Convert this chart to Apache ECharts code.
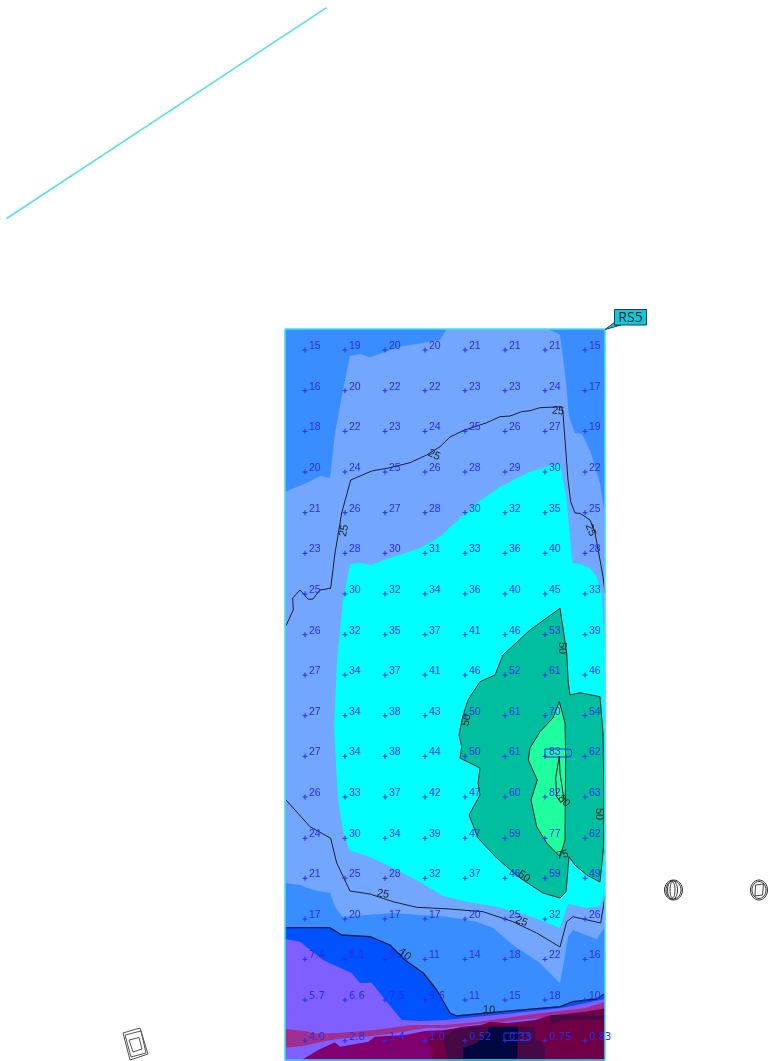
<!DOCTYPE html>
<html><head><meta charset="utf-8">
<style>html,body{margin:0;padding:0;background:#fff}#c{width:768px;height:1061px}</style>
<script src="https://cdn.jsdelivr.net/npm/echarts@6/dist/echarts.min.js"></script>
</head><body><div id="c"></div>
<script>
// Calculation grid of the plan
const gridX=[305,345,385,425,465,505,545,585];
const gridY=[350,390.7,431.3,472,512.7,553.3,594,634.7,675,715.7,756.3,797,838.3,878.3,919,959.3,1000,1040.7];
const values=[
[15,19,20,20,21,21,21,15],
[16,20,22,22,23,23,24,17],
[18,22,23,24,25,26,27,19],
[20,24,25,26,28,29,30,22],
[21,26,27,28,30,32,35,25],
[23,28,30,31,33,36,40,28],
[25,30,32,34,36,40,45,33],
[26,32,35,37,41,46,53,39],
[27,34,37,41,46,52,61,46],
[27,34,38,43,50,61,70,54],
[27,34,38,44,50,61,83,62],
[26,33,37,42,47,60,82,63],
[24,30,34,39,47,59,77,62],
[21,25,28,32,37,46,59,49],
[17,20,17,17,20,25,32,26],
[7.4,8.1,9.2,11,14,18,22,16],
[5.7,6.6,7.5,9.6,11,15,18,10],
[4.0,2.8,1.4,1.0,0.52,0.33,0.75,0.83]];
// Filled bands
const plate=[[285,329],[605,329],[605,1061],[285,1061]];
const band20=[[446.7,329],[440,340],[400,346.7],[370,357.3],[360,354],[350,356],[343,390],[335,433],[330,478],[320,476],[306.7,483],[285,491.7],[285,883],[300,885],[313,890],[330,893],[335,907],[342.7,917],[366.7,915],[393,913],[420,915],[446.7,916.7],[476.7,921.7],[493,928],[513,945],[540,963],[560,983],[563,967],[568,937],[573,930],[596.7,939],[605,927],[605,516.7],[600,483],[590,450],[581.7,434],[575,433],[569,416.7],[565,373],[560,335],[549,329]];
const band30=[[560,463],[546.7,466.7],[530,471.7],[500,486.7],[476.7,503],[460,518],[440,536.7],[420,548],[390,558],[370,565],[360,562.7],[350,564],[343,600],[337,660],[334,726.7],[336.7,776.7],[338,800],[343,830],[349,850],[370,857],[393,868],[420,882],[443,896],[466.7,901.7],[496.7,906.7],[526.7,915],[560,928],[568,904],[586.7,908],[600,906],[605,890],[605,656.7],[601.7,593],[596.7,576.7],[590,568],[580,564],[573,563],[572,560],[566.7,500]];
const band50=[[560,608.3],[530,630],[503,655],[495,675],[480,681.7],[468,700],[462.7,716.7],[459,735],[461.7,746.7],[460,758],[480,768],[478,783],[480,795],[469,815],[478,838],[496.7,858],[520,878],[543,893],[560,898],[566,891.7],[569,856.7],[575,865],[586.7,875],[600,882],[603.3,850],[604,800],[603,733],[600,696.7],[580,692.7],[570,695],[568.3,683],[566.7,653]];
const band75=[[559.3,701.7],[553,718],[540,731.7],[530,748],[528.3,760],[537.3,780],[531,800],[536.7,826.7],[546.7,843],[560,856.7],[565,840],[565.7,756.7],[565,723]];
const band10=[[285,927.7],[330,927.7],[341.7,935],[370,936.7],[390,945],[405,960],[423.3,973],[436.7,990],[450,1013],[456.7,1016],[486.7,1013],[513,1010.7],[560,1006.7],[573,1001.7],[596.7,999],[605,994],[605,1061],[285,1061]];
const band7=[[285,939],[300,941.7],[323,960],[351.7,973],[360,983],[371.7,982.7],[386.7,1001.7],[401.7,1020],[420,1021],[445,1020],[505,1014],[561.7,1008],[605,999],[605,1061],[285,1061]];
const band3=[[285,1029],[305,1031],[315,1033.3],[335,1033.3],[375,1030],[411.7,1025],[445,1025],[478,1022],[505,1018],[541.7,1013],[585,1008],[605,1001.7],[605,1008],[585,1013],[538,1018],[505,1021.7],[478,1024],[445,1028],[428.3,1027.7],[395,1033.3],[365,1036.7],[341.7,1038.3],[321.7,1041.7],[305,1045.7],[285,1047.7]];
const band2=[[300,1061],[318.3,1050],[335,1042.3],[340,1046.7],[368.3,1041.7],[375,1036.7],[405,1035],[425,1031],[448,1030],[461.7,1026.7],[481.7,1025],[490,1021.7],[506.7,1023],[535,1020],[548,1015.7],[585,1011.7],[605,1008],[605,1061]];
const band1=[[428,1038],[445,1030],[470,1027],[490,1023],[510,1024],[535,1021],[550,1016.7],[585,1012],[605,1009],[605,1061],[433,1061]];
const bandHalf=[[443.3,1038.3],[453,1030],[473,1026.7],[535,1026.7],[535,1038],[545,1046.7],[545,1061],[448,1061]];
const bandHalfB=[[550,1015],[605,1016],[605,1019.3],[563,1020],[551.7,1025]];
const bandLow=[[488,1026.7],[518.3,1026.7],[517,1061],[463.3,1061],[463.3,1048],[476.7,1043],[488,1033]];
// Iso lines
const line25a=[[286,625.7],[293.3,610],[292.7,598],[300,590],[308.3,599.3],[313,599],[320,590],[330.7,588.3],[335,553],[341.7,513],[350.7,480],[371.7,471],[390,467.7],[410,462.7],[426.7,455],[440,446.7],[450,437],[463,430.7],[486.7,422.7],[500,416.7],[510,416],[521.7,411.7],[530,410.7],[540,407.7],[561.7,406.7],[563,413],[568,480],[570.7,501.7],[575,513],[580,513.3],[590,520],[595,533],[600,560],[603,576.7],[605,593]];
const line25b=[[286,800],[310,826.7],[330.7,838.3],[336.7,863],[350,891],[370,894],[393,901.7],[416.7,907.3],[450,909],[483,911.7],[513,921.7],[536.7,933],[560,947],[566.7,921.7],[573,916.7],[600.7,923],[605,896.7]];
const line10=[[286,927.7],[330,927.7],[341.7,935],[370,936.7],[390,945],[405,960],[423.3,973],[436.7,990],[450,1013],[456.7,1016],[486.7,1013],[513,1010.7],[560,1006.7],[573,1001.7],[596.7,999],[604,994]];
const line80=[[559.3,756],[555.7,778],[556.7,796.7],[560.7,802.7],[564,800],[560,773],[559.3,756]];
const isoLabels=[['25',434,455,-25],['25',558,411,-5],['25',344,530.5,78],['25',590.5,530,-70],['50',562.3,648,-90],['50',466.5,720,78],['80',564,801,-45],['50',599,814,-90],['50',524,876.5,-35],['25',383,894,-10],['25',521.5,921.5,-20],['75',562.5,855,15],['10',489,1010,-2],['10',405,954.5,-40]];
// Surrounding objects
const workplaneEdge=[[6.7,218.5],[326.5,7.7]];
const objectA=[[123,1033],[140,1028],[148,1054],[130,1060],[123,1033]];
const objectB=[[125,1035],[141,1031],[146,1053],[131,1057],[125,1035]];
const objectC=[[129,1040],[139,1037.5],[142,1049],[133,1052],[129,1040]];
const calloutName='RS5';

const colours={plate:'#3a8dff',b20:'#72a6ff',b30:'#00ffff',b50:'#00bf9f',b75:'#20ffa0',b10:'#0052ff',b7:'#7f5fff',b3:'#a0308f',b2:'#800070',b1:'#700045',bh:'#450a45',low:'#00083f'};
const series=[];
const base={type:'custom',coordinateSystem:'cartesian2d',silent:true,animation:false,clip:false,data:[[0,0]]};
function poly(ring,fill,stroke,smooth){
  series.push(Object.assign({},base,{renderItem:(p,api)=>({type:'polygon',shape:{points:ring.map(q=>api.coord(q)),smooth:smooth||0},style:{fill:fill,stroke:stroke||null,lineWidth:stroke?1:0}})}));
}
function line(pts,color,width,smooth){
  series.push({type:'line',data:pts,showSymbol:false,silent:true,animation:false,clip:false,smooth:smooth||false,lineStyle:{color:color,width:width},z:3});
}
poly(plate,colours.plate);poly(band20,colours.b20);poly(band30,colours.b30);
poly(band50,colours.b50,'#122222');poly(band75,colours.b75,'#122222');
poly(band10,colours.b10);poly(band7,colours.b7);poly(band3,colours.b3);poly(band2,colours.b2);
poly(band1,colours.b1);poly(bandHalf,colours.bh);poly(bandHalfB,colours.bh);poly(bandLow,colours.low);
line(line25a,'#1c2028',1);line(line25b,'#1c2028',1);line(line10,'#0c1840',1.3);line(line80,'#122222',1);
line(workplaneEdge,'#58dfe8',1.6);
// plate border
line([[285,329],[605,329],[605,1060],[285,1060],[285,329]],'#3fe0ee',1.6);
// objects
line(objectA,'#555',1);line(objectB,'#555',1);line(objectC,'#555',1);
// round objects
const rings=[[673.5,890,9,10],[673.5,890,7.5,9],[672.5,890,5,9.5],[672.5,890,2.5,8],[759,890,8.5,10],[759,890,7,8.5]];
series.push(Object.assign({},base,{data:rings,z:3,renderItem:(p,api)=>{
  const c=api.coord([api.value(0),api.value(1)]);
  return {type:'ellipse',shape:{cx:c[0],cy:c[1],rx:api.value(2),ry:api.value(3)},style:{fill:null,stroke:'#333',lineWidth:1}};
}}));
series.push(Object.assign({},base,{z:3,renderItem:(p,api)=>({type:'polygon',shape:{points:[[755.5,885],[763.5,884],[762.5,895],[755,896]].map(q=>api.coord(q))},style:{fill:'#fff',stroke:'#444',lineWidth:1}})}));
// value labels
const fmt=v=>v<1?v.toFixed(2):v<10?v.toFixed(1):String(v);
const cells=[];
values.forEach((r,j)=>r.forEach((v,i)=>cells.push([gridX[i],gridY[j],v])));
series.push(Object.assign({},base,{z:5,data:cells,renderItem:(p,api)=>{
  const c=api.coord([api.value(0),api.value(1)]),v=api.value(2);
  const col='#2a2ee6';
  const font=v<10?'10px "DejaVu Sans"':'10.5px "Liberation Sans"';
  return {type:'group',children:[
    {type:'line',shape:{x1:c[0]-2.5,y1:c[1],x2:c[0]+2.5,y2:c[1]},style:{stroke:col,lineWidth:1}},
    {type:'line',shape:{x1:c[0],y1:c[1]-2.5,x2:c[0],y2:c[1]+2.5},style:{stroke:col,lineWidth:1}},
    {type:'text',style:{text:fmt(v),x:c[0]+4,y:c[1]-3.7,fill:col,font:font,textAlign:'left',textVerticalAlign:'middle'}}
  ]};
}}));
// capsules round peak and minimum
const capsules=[[545,749,27,8],[504,1033,27,7.5]];
series.push(Object.assign({},base,{z:5,data:capsules,renderItem:(p,api)=>{
  const c=api.coord([api.value(0),api.value(1)]);
  return {type:'rect',shape:{x:c[0],y:c[1],width:api.value(2),height:api.value(3),r:[0,4,4,0]},style:{fill:null,stroke:'#2a2ee6',lineWidth:1}};
}}));
// iso labels
series.push(Object.assign({},base,{z:6,data:isoLabels.map(d=>[d[1],d[2]]),renderItem:(p,api)=>{
  const c=api.coord([api.value(0),api.value(1)]),d=isoLabels[p.dataIndex];
  return {type:'text',x:c[0],y:c[1],rotation:d[3]*Math.PI/180,style:{text:d[0],x:0,y:0,fill:'#1c2024',font:'11px "Liberation Sans"',textAlign:'center',textVerticalAlign:'middle'}};
}}));
// callout
series.push(Object.assign({},base,{z:7,renderItem:(p,api)=>{
  const P=q=>api.coord(q);
  return {type:'group',children:[
    {type:'polygon',shape:{points:[[605,329.5],[615,322],[615,325],[621,325]].map(P)},style:{fill:'#10c8d8',stroke:'#1f3f55',lineWidth:1}},
    {type:'rect',shape:{x:P([614.5,0])[0],y:P([0,309.5])[1],width:32,height:15.5},style:{fill:'#10c8d8',stroke:'#1f3f55',lineWidth:1}},
    {type:'text',style:{text:calloutName,x:P([630.5,0])[0],y:P([0,317.8])[1],fill:'#10202a',font:'14px "Open Sans"',textAlign:'center',textVerticalAlign:'middle'}}
  ]};
}}));
const chart=echarts.init(document.getElementById('c'),null,{renderer:'canvas'});
chart.setOption({animation:false,backgroundColor:'#fff',
  grid:{left:0,right:0,top:0,bottom:0},
  xAxis:{type:'value',min:0,max:768,show:false},
  yAxis:{type:'value',min:0,max:1061,inverse:true,show:false},
  tooltip:{show:false},series});
</script></body></html>
